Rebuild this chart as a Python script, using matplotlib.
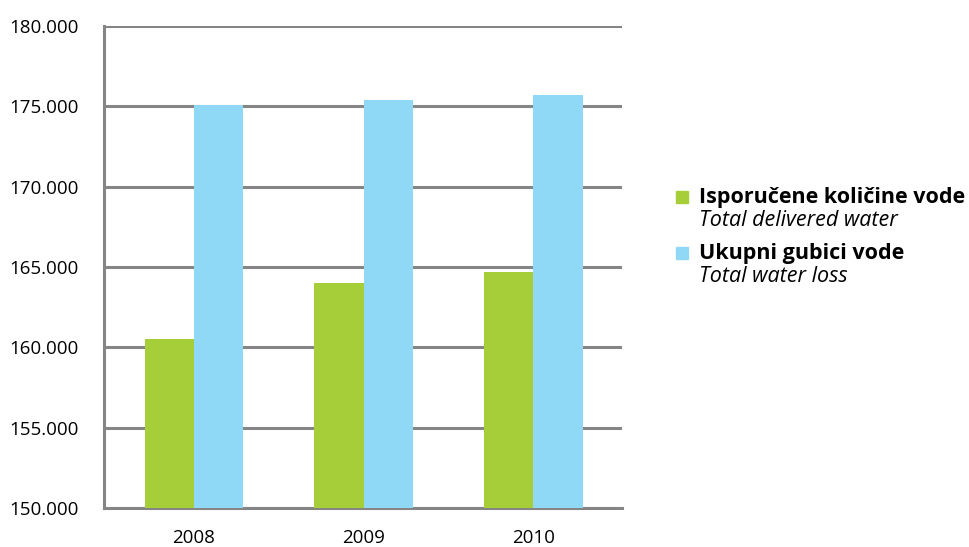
import matplotlib.pyplot as plt
from matplotlib.patches import Rectangle
from matplotlib.ticker import FuncFormatter
import numpy as np

years = ["2008", "2009", "2010"]
delivered = [160500, 164000, 164700]
water_loss = [175100, 175400, 175700]

green = "#A6CE39"
blue = "#8FD9F6"
grey = "#858585"

plt.rcParams['font.family'] = ['Open Sans', 'DejaVu Sans']

fig = plt.figure(figsize=(9.7, 5.47), dpi=100)
ax = fig.add_axes([0.107, 0.0713, 0.534, 0.8812])

x = np.arange(len(years))
w = 0.29
ax.bar(x - w / 2, delivered, width=w, color=green, zorder=3)
ax.bar(x + w / 2, water_loss, width=w, color=blue, zorder=3)

ax.set_ylim(150000, 180000)
ax.set_xlim(-0.53, 2.52)
ax.set_yticks(np.arange(150000, 180001, 5000))
ax.yaxis.set_major_formatter(FuncFormatter(lambda v, p: f"{int(v):,}".replace(",", ".")))
ax.set_xticks(x)
ax.set_xticklabels(years)

ax.grid(axis="y", color=grey, linewidth=2.2, zorder=1)
ax.tick_params(axis="both", length=0, labelsize=13.5, colors="black")
ax.tick_params(axis="y", pad=18)
ax.tick_params(axis="x", pad=15)
for s in ["top", "right"]:
    ax.spines[s].set_visible(False)
for s in ["left", "bottom"]:
    ax.spines[s].set_color(grey)
    ax.spines[s].set_linewidth(2.2)

# legend drawn by hand (bold + italic lines)
entries = [("Isporučene količine vode", "Total delivered water", green, 197),
           ("Ukupni gubici vode", "Total water loss", blue, 253)]
H = 547
for bold, ital, col, ypx in entries:
    fig.add_artist(Rectangle((676 / 970, 1 - (ypx + 6) / H), 12 / 970, 12 / H,
                             transform=fig.transFigure, color=col))
    fig.text(699 / 970, 1 - ypx / H, bold, fontsize=15.5, fontweight="bold", va="center")
    fig.text(699 / 970, 1 - (ypx + 24) / H, ital, fontsize=15.5, style="italic", va="center")

fig.savefig("out.png", dpi=100)
